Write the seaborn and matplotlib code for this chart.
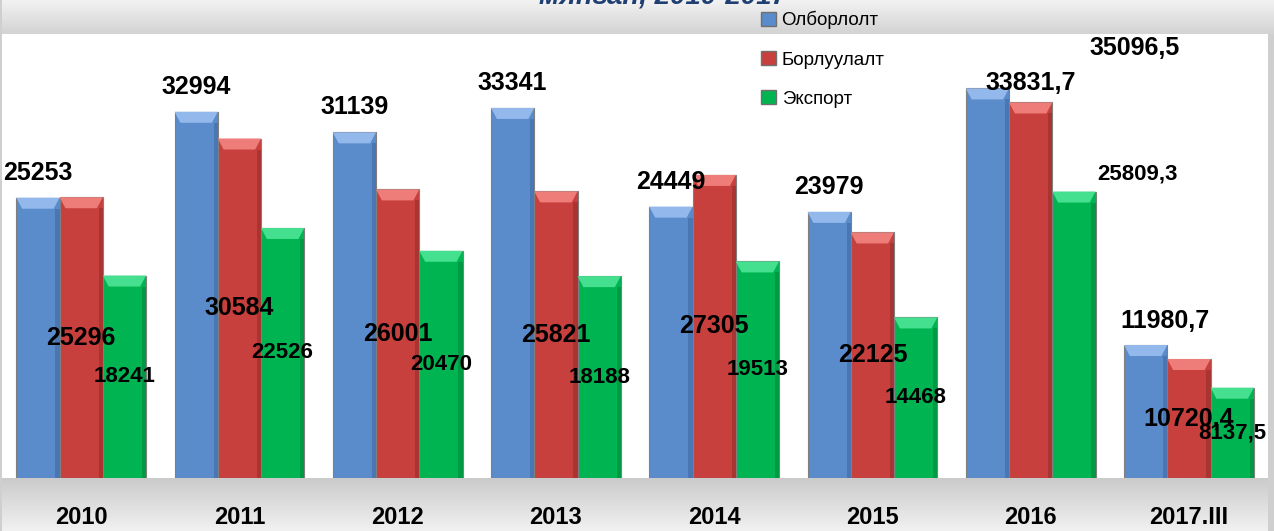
import numpy as np
import pandas as pd
import matplotlib
matplotlib.use('Agg')
import matplotlib.pyplot as plt
import seaborn as sns
from matplotlib.patches import Patch, Polygon, Rectangle
from matplotlib.colors import LinearSegmentedColormap

# ---- data ----
years = ['2010', '2011', '2012', '2013', '2014', '2015', '2016', '2017.III']
series = ['Олборлолт', 'Борлуулалт', 'Экспорт']
olborlolt = [25253, 32994, 31139, 33341, 24449, 23979, 35096.5, 11980.7]
borluulalt = [25296, 30584, 26001, 25821, 27305, 22125, 33831.7, 10720.4]
eksport = [18241, 22526, 20470, 18188, 19513, 14468, 25809.3, 8137.5]
title = 'мянган, 2010-2017'

colors = ['#5a8bcb', '#c8403d', '#00b551']
cap_colors = ['#93b9ec', '#ee7c78', '#44e08f']
side_colors = ['#4a77b4', '#a83532', '#009a45']

values = [olborlolt, borluulalt, eksport]
df = pd.DataFrame({
    'year': years * 3,
    'series': np.repeat(series, len(years)),
    'value': olborlolt + borluulalt + eksport,
})

sns.set_style('white')
plt.rcParams['font.family'] = ['Liberation Sans', 'DejaVu Sans']
plt.rcParams['text.color'] = 'black'
plt.rcParams['xtick.color'] = 'black'

fig = plt.figure(figsize=(12.74, 5.31), dpi=100)
fig.patch.set_facecolor('#cfcfcf')

# gray bands top and bottom
grad = np.linspace(0, 1, 64).reshape(-1, 1)
top = fig.add_axes([0.0016, 0.934, 0.9984, 0.066])
top.imshow(grad, aspect='auto', origin='lower', extent=[0, 1, 0, 1],
           cmap=LinearSegmentedColormap.from_list('t', ['#d2d2d2', '#f3f3f3']))
top.axis('off')
bot = fig.add_axes([0.0016, 0, 0.9937, 0.0998])
bot.imshow(grad, aspect='auto', origin='lower', extent=[0, 1, 0, 1],
           cmap=LinearSegmentedColormap.from_list('b', ['#f1f1f1', '#cbcbcb']))
bot.axis('off')

# main plot
ax = fig.add_axes([0.0016, 0.0998, 0.9937, 0.8362])
sns.barplot(data=df, x='year', y='value', hue='series', palette=colors,
            width=0.82, saturation=1, edgecolor='#7f7f7f', linewidth=0.8,
            ax=ax, legend=False)
ax.set_xlim(-0.5, len(years) - 0.5)
ax.set_ylim(0, 40000)
ax.set_facecolor('white')
ax.set_xlabel('')
ax.set_ylabel('')
ax.set_yticks([])
for s in ax.spines.values():
    s.set_visible(False)
ax.tick_params(axis='x', length=0, pad=20, labelcolor='black')
for lbl in ax.get_xticklabels():
    lbl.set_fontsize(17)
    lbl.set_fontweight('bold')

# bevel look: light cap on top, darker strip on the right
cap_h = 40000 / 443 * 11
for i, cont in enumerate(ax.containers):
    for bar in cont:
        x0, w, h = bar.get_x(), bar.get_width(), bar.get_height()
        ins = w * 6 / 44
        ax.add_patch(Rectangle((x0 + w - ins * 0.7, 0), ins * 0.7, h - cap_h,
                               facecolor=side_colors[i], edgecolor='none', zorder=3))
        ax.add_patch(Polygon([(x0, h), (x0 + w, h), (x0 + w - ins, h - cap_h), (x0 + ins, h - cap_h)],
                             closed=True, facecolor=cap_colors[i], edgecolor='none', zorder=3))

# labels which were moved by hand in the original chart: (dx, dy) in points
moved = {(0, 6): (106, 24), (1, 6): (0, 9), (2, 6): (46, 9), (0, 7): (14, 12)}

def fmt(v):
    if float(v).is_integer():
        return str(int(v))
    return f'{v:.1f}'.replace('.', ',')

for i, cont in enumerate(ax.containers):
    for j, bar in enumerate(cont):
        v = values[i][j]
        xc = bar.get_x() + bar.get_width() / 2
        fs = 16 if i == 2 else 18
        if i == 0 or (i, j) in moved:
            dx, dy = moved.get((i, j), (0, 13))
            ax.annotate(fmt(v), (xc, v), xytext=(dx, dy), textcoords='offset points',
                        ha='center', va='baseline', fontsize=fs, color='black',
                        fontweight='bold', zorder=5)
        else:
            ax.text(xc, v / 2, fmt(v), ha='center', va='center', fontsize=fs,
                    color='black', fontweight='bold', zorder=5)

handles = [Patch(facecolor=c, edgecolor='#6f6f6f') for c in colors]
fig.legend(handles, series, loc='upper left', bbox_to_anchor=(761 / 1274, 1 - 11 / 531),
           frameon=False, fontsize=13.5, handlelength=0.8, handleheight=0.8,
           handletextpad=0.3, labelspacing=1.15, borderaxespad=0, borderpad=0,
           labelcolor='black')

fig.text(663 / 1274, 1 - 4 / 531, title, ha='center', va='baseline', fontsize=20,
         fontweight='bold', fontstyle='italic', color='#1f3f73')

fig.savefig('out.png', dpi=100, facecolor=fig.get_facecolor())
